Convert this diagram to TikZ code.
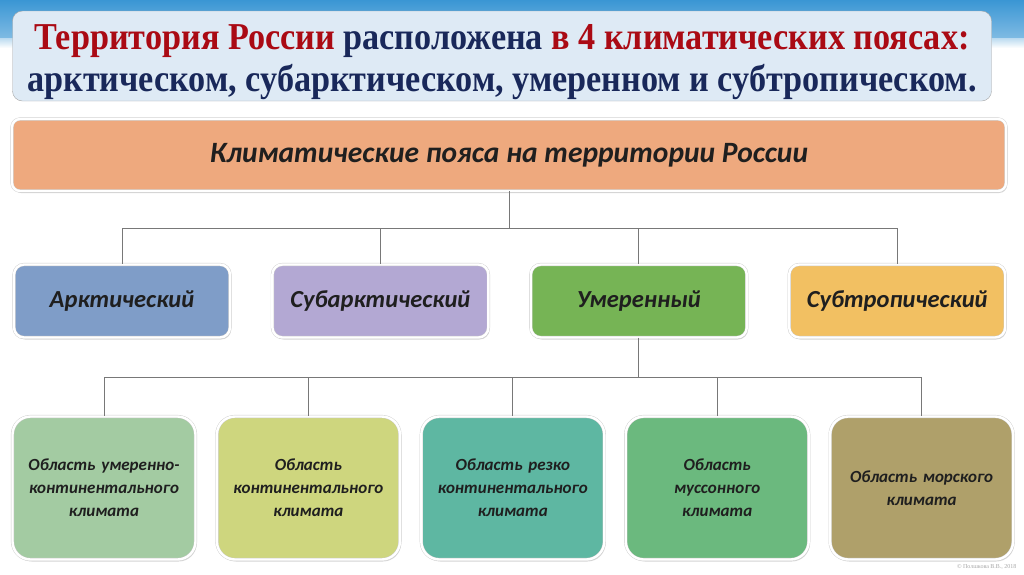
\documentclass[tikz,border=0pt]{standalone}
\usepackage{fontspec}
\setmainfont{Liberation Serif}
\newfontfamily\titlefont[FakeStretch=0.9]{Liberation Serif}
\newfontfamily\boxfont{Carlito}
\usepackage{tikz}
\usetikzlibrary{positioning,calc,shadows}
\definecolor{titleRed}{RGB}{170,10,20}
\definecolor{titleNavy}{RGB}{25,40,90}
\definecolor{titleFill}{RGB}{222,234,245}
\definecolor{skyBlue}{RGB}{58,150,212}
\definecolor{headOrange}{RGB}{238,169,126}
\definecolor{arcBlue}{RGB}{127,157,200}
\definecolor{subarcLilac}{RGB}{179,168,211}
\definecolor{tempGreen}{RGB}{118,180,85}
\definecolor{subtropGold}{RGB}{242,192,98}
\definecolor{regMint}{RGB}{163,203,162}
\definecolor{regLime}{RGB}{206,214,126}
\definecolor{regTeal}{RGB}{94,183,162}
\definecolor{regGreen}{RGB}{107,185,126}
\definecolor{regKhaki}{RGB}{175,160,106}
\definecolor{linkGray}{RGB}{120,120,120}
\tikzset{
  titleBox/.style  = {rectangle, rounded corners=10pt, draw=gray!70, fill=titleFill,
                      minimum width=979pt, minimum height=90pt},
  titleText/.style = {align=center, text=titleNavy,
                      font=\titlefont\bfseries\fontsize{38}{42}\selectfont},
  beltBase/.style  = {rectangle, draw=gray!40, double=white, double distance=2.4pt,
                      fill=#1, text=black!88, align=center,
                      drop shadow={opacity=0.3, shadow xshift=1.2pt, shadow yshift=-2pt}},
  headBox/.style   = {beltBase=headOrange, rounded corners=8pt, minimum width=994pt,
                      minimum height=72pt,
                      font=\boxfont\bfseries\itshape\fontsize{29.5}{33}\selectfont},
  beltBox/.style   = {beltBase=#1, rounded corners=10pt, minimum width=216pt,
                      minimum height=73pt,
                      font=\boxfont\bfseries\itshape\fontsize{24.5}{28}\selectfont},
  regBox/.style    = {beltBase=#1, rounded corners=18pt, minimum width=183pt,
                      minimum height=143pt, text width=175pt,
                      font=\boxfont\bfseries\itshape\fontsize{17}{23}\selectfont},
  link/.style      = {draw=linkGray, line width=0.8pt},
}
\begin{document}
\begin{tikzpicture}[x=1pt,y=-1pt]
  \useasboundingbox (0,0) rectangle (1024,574);
  \shade[top color=skyBlue, bottom color=skyBlue!65] (0,0) rectangle (1024,38);
  \shade[top color=skyBlue!35, bottom color=white] (0,38) rectangle (1024,48);

  \node[titleBox] (title) at (502,56) {};
  \node[titleText] (titleTxt) at (502,62)
    {\textcolor{titleRed}{Территория России} расположена \textcolor{titleRed}{в 4 климатических поясах:}\\
     арктическом, субарктическом, умеренном и субтропическом.};

  \node[headBox] (head) at (509,155) {Климатические пояса на территории России};

  \node[beltBox=arcBlue] (arc) at (122,301) {Арктический};
  \node[beltBox=subarcLilac, right=42pt of arc] (subarc) {Субарктический};
  \node[beltBox=tempGreen, right=42pt of subarc] (temp) {Умеренный};
  \node[beltBox=subtropGold, right=42pt of temp] (subtrop) {Субтропический};

  \node[regBox=regMint] (mint) at (104,488) {Область умеренно-\\континентального\\климата};
  \node[regBox=regLime, right=21pt of mint] (lime) {Область\\континентального\\климата};
  \node[regBox=regTeal, right=21pt of lime] (sharp) {Область резко\\континентального\\климата};
  \node[regBox=regGreen, right=21pt of sharp] (monsoon) {Область\\муссонного\\климата};
  \node[regBox=regKhaki, right=21pt of monsoon] (sea) {Область морского\\климата};

  \coordinate (bus1) at ($(head.south)+(0,37)$);
  \draw[link] (head.south) -- (bus1);
  \foreach \b in {arc,subarc,temp,subtrop}
    \draw[link] (bus1) -| (\b.north);

  \coordinate (bus2) at ($(temp.south)+(0,40)$);
  \draw[link] (temp.south) -- (bus2);
  \foreach \r in {mint,lime,sharp,monsoon,sea}
    \draw[link] (bus2) -| (\r.north);

  \node[anchor=east, text=gray!70, font=\fontsize{6}{7}\selectfont] (copy) at (1020,567)
    {© Полшкова В.В., 2018};
\end{tikzpicture}
\end{document}
